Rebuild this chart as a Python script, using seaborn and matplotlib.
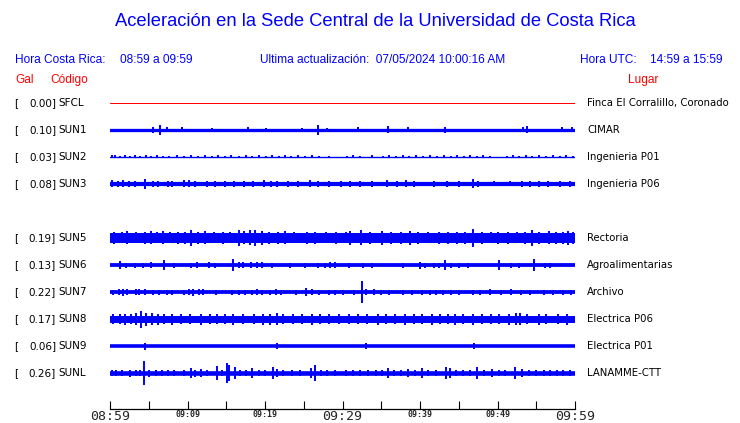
import pandas as pd
import matplotlib.pyplot as plt
import seaborn as sns
from matplotlib.transforms import blended_transform_factory

# ----- data -----
stations = ["SFCL", "SUN1", "SUN2", "SUN3", "SUN5", "SUN6", "SUN7", "SUN8", "SUN9", "SUNL"]
rows = [0, 1, 2, 3, 5, 6, 7, 8, 9, 10]          # SUN4 slot is empty
gal = [0.00, 0.10, 0.03, 0.08, 0.19, 0.13, 0.22, 0.17, 0.06, 0.26]
places = ["Finca El Corralillo, Coronado", "CIMAR", "Ingenieria P01", "Ingenieria P06",
          "Rectoria", "Agroalimentarias", "Archivo", "Electrica P06", "Electrica P01",
          "LANAMME-CTT"]
# steady band thickness of each trace (px)
band_px = [1.0, 3.3, 1.4, 4.2, 10.0, 3.8, 3.8, 7.0, 3.6, 4.6]

minutes = [0, 60]
tick_min = [0, 5, 10, 15, 20, 25, 30, 35, 40, 45, 50, 55, 60]
tick_lbl = ["08:59", "", "09:09", "", "09:19", "", "09:29", "", "09:39", "", "09:49", "", "09:59"]

# bursts: (minute, half height in px)
spikes_SUN1 = [(5.5, 2.8), (6.4, 5), (7.4, 2.5), (9.3, 2.5), (13.2, 2), (17.8, 2.5), (20.1, 2),
               (24.8, 2), (26.9, 5), (28.0, 2.2), (32.0, 2.5), (35.9, 3.5), (38.4, 2.5),
               (43.2, 3), (53.3, 2.5), (53.8, 3.5), (58.3, 2.5), (59.6, 2.5)]
spikes_SUN2 = [(0.2, 1.5), (0.7, 1.5), (1.3, 1.4), (1.9, 1.5), (2.6, 1.4), (3.2, 1.5), (3.9, 1.4),
               (4.6, 1.5), (5.3, 1.4), (6.0, 1.5), (6.8, 1.4), (7.6, 1.4), (8.7, 1.5), (9.5, 1.4),
               (10.5, 1.5), (11.3, 1.4), (12.2, 1.5), (13.1, 1.4), (13.9, 1.5), (14.8, 1.4),
               (15.6, 1.5), (16.7, 1.4), (17.5, 1.5), (18.3, 1.4), (19.2, 1.5), (20.1, 1.4),
               (20.9, 1.5), (21.8, 1.4), (22.6, 1.5), (23.4, 1.4), (24.3, 1.5), (25.2, 1.4),
               (26.1, 1.5), (27.0, 1.4), (28.2, 1.4), (30.6, 1.4), (31.4, 1.5), (32.3, 1.4),
               (33.8, 1.5), (35.2, 1.4), (36.0, 1.5), (36.9, 1.4), (37.8, 1.5), (38.6, 1.4),
               (39.5, 1.5), (40.4, 1.4), (41.3, 1.5), (42.2, 1.4), (43.1, 1.5), (44.0, 1.4),
               (44.8, 1.5), (45.7, 1.4), (46.5, 1.5), (47.4, 1.4), (48.1, 1.5), (49.0, 1.4),
               (51.2, 1.4), (52.0, 1.5), (52.8, 1.4), (53.7, 1.5), (54.5, 1.4), (55.4, 1.5),
               (56.2, 1.4), (57.1, 1.5), (58.0, 1.4), (58.9, 1.5), (59.7, 1.4)]
spikes_SUN3 = [(0.3, 3.5), (1.0, 3), (1.7, 3.5), (2.5, 3), (3.2, 3), (4.5, 5), (5.5, 3), (6.2, 3),
               (7.5, 3), (8.0, 3), (9.5, 3.5), (10.2, 3.5), (11.0, 3), (12.5, 3), (13.5, 3),
               (14.8, 3), (16.0, 3), (17.3, 3), (18.5, 3), (19.9, 3.5), (20.8, 3), (21.6, 3),
               (23.0, 3), (24.3, 3), (25.8, 3.5), (26.8, 3), (28.3, 3), (29.8, 3), (31.0, 3),
               (32.3, 3), (33.8, 3), (35.8, 3.5), (37.0, 3), (38.2, 3.5), (39.2, 3), (41.8, 3),
               (43.5, 3), (45.0, 3), (46.9, 4.5), (47.5, 3), (49.5, 2.5), (51.6, 2.5), (53.2, 3),
               (54.2, 3), (55.3, 3), (56.5, 3), (58.0, 3), (59.3, 3)]
spikes_SUN5 = [(0.5, 6), (1.6, 5.5), (2.2, 6.5), (3.4, 5.5), (4.5, 6), (5.3, 6.5), (6.1, 5.5),
               (6.9, 6.5), (7.7, 5.5), (8.8, 6), (9.7, 6), (10.5, 8), (11.4, 6), (12.3, 6.5),
               (13.4, 5.5), (14.6, 6), (15.5, 5.5), (16.6, 8), (17.3, 6.5), (18.0, 7.5),
               (18.7, 8), (19.6, 7), (20.5, 6), (21.7, 6), (22.6, 6.5), (23.8, 5.5), (25.4, 6),
               (26.5, 6), (27.9, 5.5), (29.2, 6), (30.5, 5.5), (31.0, 7), (32.4, 7.5), (33.5, 6),
               (35.1, 7), (36.2, 6), (37.6, 6), (38.7, 7), (39.8, 6), (41.0, 5.5), (42.4, 6),
               (43.6, 6), (44.8, 6), (45.8, 6), (46.9, 9), (48.0, 6), (49.1, 5.5), (50.1, 6),
               (51.3, 6), (52.5, 5.5), (53.6, 6), (54.4, 8), (55.3, 6), (56.6, 6.5), (57.6, 6),
               (58.5, 6), (59.1, 7), (59.7, 6)]
spikes_SUN6 = [(1.3, 4), (2.0, 2.5), (3.2, 2.5), (4.2, 2.5), (5.3, 3), (7.0, 4.5), (8.2, 2.5),
               (10.4, 2.5), (11.2, 3), (12.8, 3), (13.6, 2.5), (15.9, 6), (16.6, 3), (17.2, 3),
               (18.2, 3), (19.0, 3), (19.6, 3), (20.9, 2.5), (23.2, 2.5), (25.1, 2.5), (26.8, 2.5),
               (27.8, 2.5), (28.4, 3), (29.0, 3), (30.8, 2.5), (32.6, 2.5), (33.8, 2.5),
               (37.8, 2.5), (40.0, 3.5), (40.6, 2.5), (41.8, 2.5), (42.4, 2.5), (43.2, 5),
               (44.0, 2.5), (45.0, 2.5), (46.2, 2.5), (50.2, 4.5), (51.7, 2.5), (52.8, 2.5),
               (54.7, 6), (56.1, 2.5), (56.8, 2.5)]
spikes_SUN7 = [(0.4, 2.5), (1.2, 3), (1.7, 3.5), (2.2, 3), (3.3, 3), (3.8, 3.2), (4.5, 3),
               (5.6, 2.5), (6.3, 2.5), (7.3, 2.5), (8.0, 2.5), (9.5, 2.5), (10.2, 3), (10.7, 3.5),
               (11.5, 3), (12.0, 3), (13.7, 2.5), (15.8, 2.5), (16.7, 2.5), (17.4, 2.5),
               (18.3, 2.5), (19.0, 3), (19.6, 2.5), (20.7, 2.5), (21.4, 3), (22.0, 2.5),
               (24.0, 2.5), (25.3, 4), (26.0, 3), (27.0, 2.5), (28.3, 2.5), (29.0, 2.5),
               (30.0, 2.5), (31.5, 2.5), (32.5, 10.5), (33.0, 3), (34.0, 3), (35.0, 2.5),
               (36.0, 2.5), (37.8, 2.5), (39.0, 2.5), (40.3, 2.5), (41.3, 2.5), (42.0, 2.5),
               (43.0, 2.5), (44.0, 2.5), (45.0, 2.5), (46.9, 2.5), (47.8, 2.5), (49.0, 3),
               (50.5, 2.5), (51.8, 3), (53.0, 2.5), (54.2, 2.5), (56.0, 2.5), (57.2, 2.5),
               (58.5, 2.5), (59.5, 2.5)]
spikes_SUN8 = [(0.4, 5), (1.3, 5), (1.9, 5.5), (2.7, 5), (3.4, 6), (4.0, 8.5), (4.6, 6.5),
               (5.4, 6), (6.2, 5.5), (7.0, 5), (8.0, 5.5), (9.2, 5), (10.3, 5), (11.8, 5.5),
               (12.9, 5), (13.8, 5), (14.8, 5), (15.9, 5.5), (17.2, 5), (18.6, 5), (19.8, 5.5),
               (20.6, 5.5), (21.5, 6), (22.3, 5), (23.6, 5), (24.8, 5), (26.0, 5.5), (27.1, 5),
               (28.3, 5), (29.5, 5), (30.8, 5), (32.0, 5), (33.2, 5), (34.6, 5.5), (35.6, 5),
               (36.8, 5), (38.1, 5.5), (39.2, 5), (40.3, 5), (41.5, 5.5), (42.6, 5), (43.6, 5),
               (44.5, 5.5), (45.6, 5), (46.9, 5.5), (48.0, 5), (49.2, 5), (50.2, 5), (51.5, 5.5),
               (52.4, 6), (52.9, 6), (53.8, 5), (55.3, 5.5), (56.3, 5), (57.8, 5), (59.0, 5.5)]
spikes_SUN9 = [(4.5, 3.5), (21.6, 3), (33.0, 2.5), (47.0, 2.5)]
spikes_SUNL = [(0.2, 3), (0.8, 3), (1.5, 3), (2.6, 3.5), (3.3, 3), (3.9, 3), (4.4, 12), (5.0, 3.5),
               (5.9, 3), (6.7, 3), (7.5, 3), (8.3, 3), (9.5, 3), (10.5, 5), (11.0, 3.5), (11.8, 4),
               (12.5, 3), (13.8, 7), (14.4, 3), (15.1, 10), (15.4, 8), (16.1, 6), (16.8, 3),
               (17.5, 3), (18.3, 5), (19.2, 3), (20.0, 3), (21.0, 6), (21.6, 4), (22.3, 3),
               (23.5, 3), (24.5, 3), (25.9, 5), (26.5, 8), (27.2, 3), (28.0, 3), (29.0, 3),
               (30.5, 3), (31.4, 3), (32.3, 3), (33.3, 3), (34.3, 3), (35.1, 3), (35.9, 5),
               (36.7, 3), (37.5, 3), (38.5, 4), (39.3, 3), (40.2, 5), (41.0, 3), (42.0, 3),
               (43.4, 6), (43.9, 5), (44.7, 3), (45.6, 3), (46.5, 3), (47.4, 6), (48.3, 3),
               (49.3, 4), (50.2, 3), (51.0, 3), (52.3, 6), (53.1, 4), (54.0, 3), (55.0, 3),
               (56.0, 3), (56.8, 3), (57.7, 3), (58.5, 3), (59.3, 3)]
spikes = {"SUN1": spikes_SUN1, "SUN2": spikes_SUN2, "SUN3": spikes_SUN3, "SUN5": spikes_SUN5,
          "SUN6": spikes_SUN6, "SUN7": spikes_SUN7, "SUN8": spikes_SUN8, "SUN9": spikes_SUN9,
          "SUNL": spikes_SUNL}

# ----- figure -----
sns.set_style("white")
plt.rcParams["font.family"] = ["DejaVu Sans"]

W, H = 740, 423
ROW_PX = 27.0
fig = plt.figure(figsize=(W / 100, H / 100), dpi=100)
ax = fig.add_axes([110 / W, (H - 409) / H, 465 / W, (409 - 90) / H])

BLUE = "#0000ff"
colors = {s: ("#ff0000" if s == "SFCL" else BLUE) for s in stations}
widths = {s: w * 0.72 for s, w in zip(stations, band_px)}

base = pd.DataFrame(
    [(s, m, r) for s, r in zip(stations, rows) for m in minutes],
    columns=["station", "minute", "row"],
)
sns.lineplot(data=base, x="minute", y="row", hue="station", palette=colors,
             size="station", sizes=widths, estimator=None, legend=False, ax=ax)

for s, r in zip(stations, rows):
    if s not in spikes:
        continue
    t = [p[0] for p in spikes[s]]
    h = [p[1] / ROW_PX for p in spikes[s]]
    ax.vlines(t, [r - v for v in h], [r + v for v in h], colors=BLUE, linewidth=1.4)

ax.set_xlim(0, 60)
ax.set_ylim((409 - 103) / ROW_PX, (90 - 103) / ROW_PX)
for side in ["left", "right", "top"]:
    ax.spines[side].set_visible(False)
ax.spines["bottom"].set_color("black")
ax.spines["bottom"].set_linewidth(0.9)
ax.set_yticks([])
ax.set_xlabel(None)
ax.set_ylabel(None)
ax.set_xticks(tick_min)
ax.set_xticklabels(tick_lbl)
ax.tick_params(axis="x", direction="in", length=6, width=0.8, color="black", pad=1,
               bottom=True)
for lbl in ax.get_xticklabels():
    big = lbl.get_text() in ("08:59", "09:29", "09:59")
    lbl.set_family("DejaVu Sans Mono")
    lbl.set_fontsize(9.5 if big else 6)
    lbl.set_fontweight("normal" if big else "bold")

# ----- texts -----
def fx(x):
    return x / W

def fy(y):
    return 1 - y / H

fig.text(fx(375), fy(22), "Aceleración en la Sede Central de la Universidad de Costa Rica",
         ha="center", va="center", color=BLUE, fontsize=13.2, family="Liberation Sans")
head = [(15, "Hora Costa Rica:"), (120, "08:59 a 09:59"),
        (260, "Ultima actualización:  07/05/2024 10:00:16 AM"),
        (580, "Hora UTC:"), (650, "14:59 a 15:59")]
for x, txt in head:
    fig.text(fx(x), fy(60), txt, ha="left", va="center", color=BLUE, fontsize=8.6,
             family="Liberation Sans")
for x, txt in [(15, "Gal"), (50, "Código"), (628, "Lugar")]:
    fig.text(fx(x), fy(80), txt, ha="left", va="center", color="red", fontsize=8.6,
             family="Liberation Sans")

tr = blended_transform_factory(fig.transFigure, ax.transData)
for s, r, g, p in zip(stations, rows, gal, places):
    ax.text(fx(14), r, "[", transform=tr, ha="left", va="center", fontsize=7.5, color="black")
    ax.text(fx(56), r, f"{g:.2f}]", transform=tr, ha="right", va="center", fontsize=7.5,
            color="black")
    ax.text(fx(58), r, s, transform=tr, ha="left", va="center", fontsize=7.5, color="black")
    ax.text(fx(587), r, p, transform=tr, ha="left", va="center", fontsize=7.3, color="black")

fig.savefig("out.png", dpi=100)
